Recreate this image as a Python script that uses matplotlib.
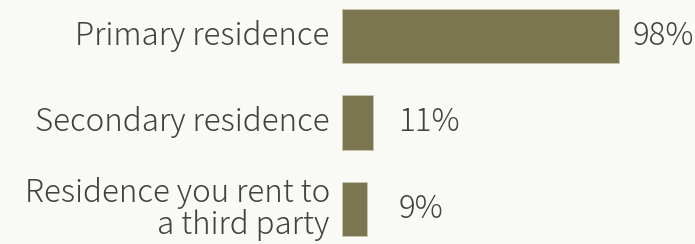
import matplotlib
matplotlib.use('Agg')
import matplotlib.pyplot as plt

categories = ['Primary residence', 'Secondary residence', 'Residence you rent to\na third party']
values = [98, 11, 9]
value_labels = ['98%', '11%', '9%']

plt.rcParams['font.family'] = ['Noto Sans CJK JP', 'DejaVu Sans']

bg = '#f9f9f6'
bar_color = '#7b7650'
text_color = '#424242'

fig = plt.figure(figsize=(6.95, 2.44), dpi=100, facecolor=bg)
ax = fig.add_axes([342 / 695, 0, 353 / 695, 1])
ax.set_facecolor(bg)

ypos = list(range(len(values)))
ax.barh(ypos, values, height=0.63, color=bar_color, edgecolor='#c9c6b0', linewidth=0.6)
ax.set_xlim(0, 125)
ax.set_ylim(2.405, -0.416)

for y, v, lab in zip(ypos, values, value_labels):
    ax.text(max(v + 5, 20), y, lab, va='center', ha='left',
            fontsize=22.5, fontweight=300, color=text_color)

for y, cat in zip(ypos, categories):
    ax.text(-4.3, y, cat, va='center', ha='right', fontsize=22.5,
            fontweight=300, color=text_color, linespacing=1.0)

ax.axis('off')
fig.savefig('out.png', dpi=100, facecolor=bg)
